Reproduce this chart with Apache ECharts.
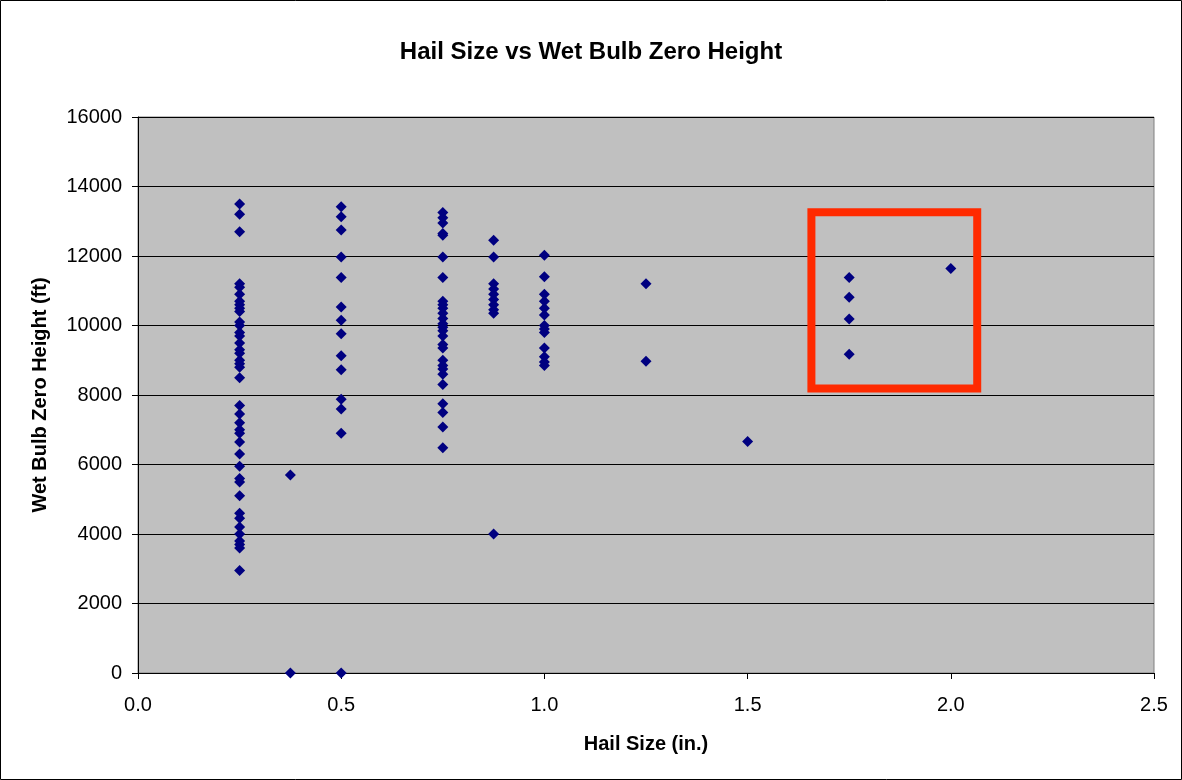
<!DOCTYPE html>
<html>
<head>
<meta charset="utf-8">
<script src="https://cdn.jsdelivr.net/npm/echarts@6/dist/echarts.min.js"></script>
<style>html,body{margin:0;padding:0;background:#fff}#c{width:1182px;height:780px}</style>
</head>
<body>
<div id="c"></div>
<script>
const titleText = 'Hail Size vs Wet Bulb Zero Height';
const xAxisName = 'Hail Size (in.)';
const yAxisName = 'Wet Bulb Zero Height (ft)';

const hail_0_25  = [13500,13200,12700,11200,11100,10900,10700,10600,10500,10400,10100,10000,9800,9700,9500,9300,9200,9000,8900,8800,8500,7700,7450,7200,7000,6900,6650,6300,5950,5600,5500,5100,4600,4450,4200,4000,3800,3700,3600,2950];
const hail_0_375 = [5700,0];
const hail_0_5   = [13420,13130,12750,11970,11380,10530,10150,9760,9130,8730,7880,7600,6900,0];
const hail_0_75  = [13250,13100,12950,12650,12600,11970,11380,10700,10600,10500,10350,10200,10050,9950,9850,9700,9450,9350,9000,8850,8750,8600,8300,7750,7500,7080,6480];
const hail_0_875 = [12450,11970,11200,11050,10900,10750,10600,10450,10350,4000];
const hail_1_0   = [12020,11400,10900,10700,10500,10300,10000,9900,9800,9350,9100,8950,8850];
const hail_1_25  = [11200,8970];
const hail_1_5   = [6660];
const hail_1_75  = [11380,10810,10190,9170];
const hail_2_0   = [11640];

const hailSizes = [0.25,0.375,0.5,0.75,0.875,1.0,1.25,1.5,1.75,2.0];
const heights = [hail_0_25,hail_0_375,hail_0_5,hail_0_75,hail_0_875,hail_1_0,hail_1_25,hail_1_5,hail_1_75,hail_2_0];

// highlighted box (data coordinates): [x0, y0, x1, y1]
const highlightBox = [1.657, 8190, 2.065, 13260];

const points = [];
hailSizes.forEach((s,i)=>heights[i].forEach(h=>points.push([s,h])));

const chart = echarts.init(document.getElementById('c'));
const font = 'Liberation Sans, Arial, sans-serif';
chart.setOption({
  animation:false,
  backgroundColor:'#ffffff',
  title:{text:titleText,left:'center',top:35,textStyle:{fontFamily:font,fontSize:24,fontWeight:'bold',color:'#000'}},
  grid:{left:138,right:28,top:117,bottom:107,show:true,backgroundColor:'#c0c0c0',borderColor:'#808080',borderWidth:1},
  xAxis:{type:'value',min:0,max:2.5,interval:0.5,
    name:xAxisName,nameLocation:'middle',nameGap:61,
    nameTextStyle:{fontFamily:font,fontSize:20,fontWeight:'bold',color:'#000'},
    axisLine:{show:true,onZero:false,lineStyle:{color:'#000',width:1}},
    axisTick:{show:true,inside:false,length:6,lineStyle:{color:'#000'}},
    axisLabel:{fontFamily:font,fontSize:20,color:'#000',margin:22,formatter:v=>v.toFixed(1)},
    splitLine:{show:false}},
  yAxis:{type:'value',min:0,max:16000,interval:2000,
    name:yAxisName,nameLocation:'middle',nameGap:88,nameRotate:90,
    nameTextStyle:{fontFamily:font,fontSize:20,fontWeight:'bold',color:'#000'},
    axisLine:{show:true,lineStyle:{color:'#000',width:1}},
    axisTick:{show:true,inside:false,length:6,lineStyle:{color:'#000'}},
    axisLabel:{fontFamily:font,fontSize:20,color:'#000',margin:16,formatter:v=>String(v)},
    splitLine:{show:true,lineStyle:{color:'#000',width:1}}},
  series:[{
    type:'scatter',data:points,symbol:'diamond',symbolSize:11,
    itemStyle:{color:'#000080',opacity:1},
    markArea:{silent:true,itemStyle:{color:'rgba(0,0,0,0)',borderColor:'#ff2a00',borderWidth:8},
      data:[[{coord:[highlightBox[0],highlightBox[1]]},{coord:[highlightBox[2],highlightBox[3]]}]]}
  }],
  graphic:[{type:'rect',shape:{x:0.5,y:0.5,width:1181,height:779},style:{fill:'none',stroke:'#000',lineWidth:1},silent:true}]
});
</script>
</body>
</html>
